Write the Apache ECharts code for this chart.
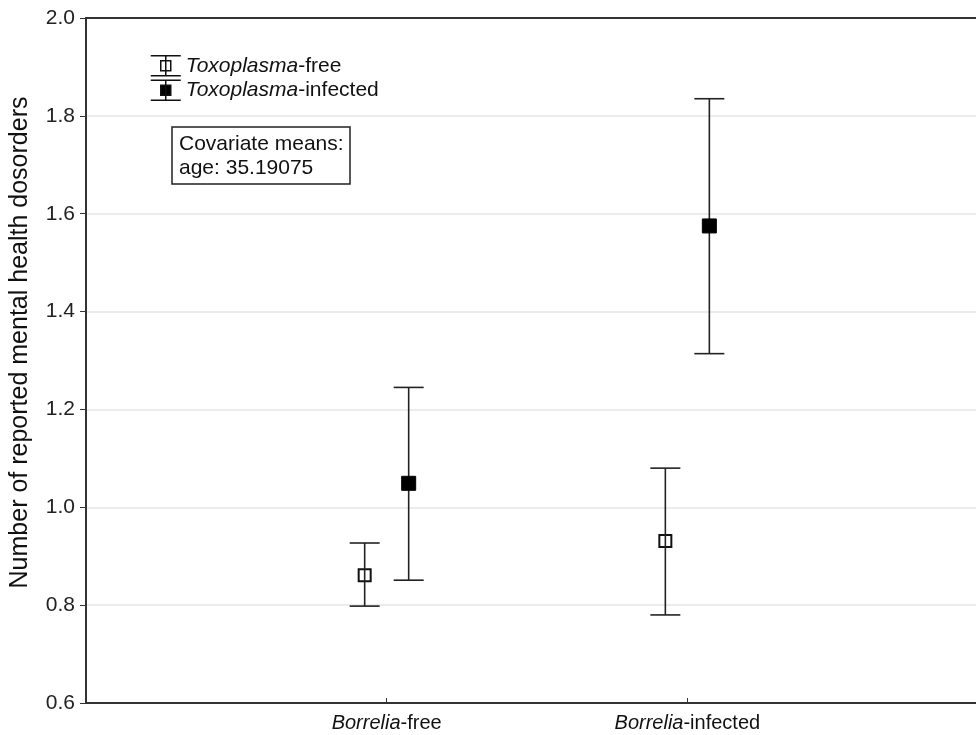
<!DOCTYPE html>
<html>
<head>
<meta charset="utf-8">
<script src="https://cdn.jsdelivr.net/npm/echarts@6/dist/echarts.min.js"></script>
<style>
    html, body { margin: 0; padding: 0; background: #fff; }
    #chart { width: 976px; height: 735px; }
</style>
</head>
<body>
<div id="chart"></div>
<script>
// Groupes sur l'axe X (positions 1 et 2)
const borreliaGroups = ["Borrelia-free", "Borrelia-infected"];
const groupPos = [1, 2];

// Moyennes et bornes
const freeMean = [0.861, 0.931];
const freeLow = [0.798, 0.780];
const freeHigh = [0.927, 1.080];

const infMean = [1.049, 1.575];
const infLow = [0.851, 1.314];
const infHigh = [1.245, 1.835];

const yTicks = [0.6, 0.8, 1.0, 1.2, 1.4, 1.6, 1.8, 2.0];

const FONT = "Liberation Sans, Arial, sans-serif";

function rows(mean, low, high)
{
    return groupPos.map((x, i) => [x, mean[i], low[i], high[i]]);
}

// Dessine une barre d'erreur + carré, décalée de "offset" pixels
function makeRenderer(offset, hollow)
{
    return function (params, api)
    {
        const x = api.value(0);
        const pMean = api.coord([x, api.value(1)]);
        const pLow = api.coord([x, api.value(2)]);
        const pHigh = api.coord([x, api.value(3)]);
        const cx = pMean[0] + offset;
        const capHalf = 15;
        const sq = hollow ? 12 : 14;
        const lineStyle = { stroke: "#222", lineWidth: 1.6 };
        const square = {
            type: "rect",
            shape: { x: cx - sq / 2, y: pMean[1] - sq / 2, width: sq, height: sq },
            style: hollow
                ? { fill: "#fff", stroke: "#111", lineWidth: 2 }
                : { fill: "#000", stroke: "#000", lineWidth: 1 }
        };
        const lines = [
            { type: "line", shape: { x1: cx, y1: pHigh[1], x2: cx, y2: pLow[1] }, style: lineStyle },
            { type: "line", shape: { x1: cx - capHalf, y1: pHigh[1], x2: cx + capHalf, y2: pHigh[1] }, style: lineStyle },
            { type: "line", shape: { x1: cx - capHalf, y1: pLow[1], x2: cx + capHalf, y2: pLow[1] }, style: lineStyle }
        ];
        return {
            type: "group",
            children: hollow ? [square].concat(lines) : lines.concat([square])
        };
    };
}

const legendIcon = "path://M0,0L30,0M15,0L15,20M0,20L30,20M10,5L20,5L20,15L10,15Z";

const chart = echarts.init(document.getElementById("chart"));

chart.setOption({
    animation: false,
    backgroundColor: "#fff",
    textStyle: { fontFamily: FONT },
    title: {
        text: "Covariate means:\nage: 35.19075",
        left: 172,
        top: 127,
        padding: [5, 7, 4, 7],
        borderColor: "#222",
        borderWidth: 1.5,
        textStyle: { fontFamily: FONT, fontSize: 21, fontWeight: "normal", color: "#111", lineHeight: 24 }
    },
    legend: {
        orient: "vertical",
        left: 145,
        top: 50,
        itemWidth: 30,
        itemHeight: 20,
        itemGap: 3,
        selectedMode: false,
        data: [
            { name: "Toxoplasma-free", icon: legendIcon, itemStyle: { color: "#fff", borderColor: "#111", borderWidth: 1.5 } },
            { name: "Toxoplasma-infected", icon: legendIcon, itemStyle: { color: "#000", borderColor: "#111", borderWidth: 1.5 } }
        ],
        formatter: (name) => "{i|Toxoplasma}{n|" + name.replace("Toxoplasma", "") + "}",
        textStyle: {
            rich: {
                i: { fontFamily: FONT, fontSize: 21, fontStyle: "italic", color: "#111" },
                n: { fontFamily: FONT, fontSize: 21, color: "#111" }
            }
        }
    },
    grid: { left: 86, right: 0, top: 18, bottom: 32, outerBoundsMode: "none", containLabel: false },
    xAxis: [
        {
            type: "value",
            min: 0,
            max: 2.96,
            interval: 1,
            splitLine: { show: false },
            axisLine: { lineStyle: { color: "#333", width: 2 } },
            axisTick: { inside: true, length: 5, lineStyle: { color: "#333" } },
            axisLabel: {
                margin: 10,
                formatter: (v) => {
                    const i = groupPos.indexOf(Math.round(v * 100) / 100);
                    if (i < 0) return "";
                    return "{i|Borrelia}{n|" + borreliaGroups[i].replace("Borrelia", "") + "}";
                },
                rich: {
                    i: { fontFamily: FONT, fontSize: 20, fontStyle: "italic", color: "#111" },
                    n: { fontFamily: FONT, fontSize: 20, color: "#111" }
                }
            }
        },
        {
            type: "value",
            position: "top",
            min: 0,
            max: 2.96,
            axisLine: { show: true, lineStyle: { color: "#333", width: 2 } },
            axisTick: { show: false },
            axisLabel: { show: false },
            splitLine: { show: false }
        }
    ],
    yAxis: {
        type: "value",
        min: yTicks[0],
        max: yTicks[yTicks.length - 1],
        interval: 0.2,
        name: "Number of reported mental health dosorders",
        nameLocation: "middle",
        nameGap: 53,
        nameTextStyle: { fontFamily: FONT, fontSize: 25, color: "#111", padding: [0, 0, 0, 36] },
        axisLine: { show: true, lineStyle: { color: "#333", width: 2 } },
        axisTick: { show: true, length: 6, lineStyle: { color: "#333" } },
        axisLabel: {
            margin: 11,
            fontFamily: FONT,
            fontSize: 21,
            color: "#222",
            formatter: (v) => v.toFixed(1)
        },
        splitLine: { show: true, lineStyle: { color: "#e6e6e6", width: 1.5 } }
    },
    series: [
        {
            name: "Toxoplasma-free",
            type: "custom",
            renderItem: makeRenderer(-22, true),
            itemStyle: { color: "#fff", borderColor: "#111" },
            data: rows(freeMean, freeLow, freeHigh),
            clip: false
        },
        {
            name: "Toxoplasma-infected",
            type: "custom",
            renderItem: makeRenderer(22, false),
            itemStyle: { color: "#000" },
            data: rows(infMean, infLow, infHigh),
            clip: false
        }
    ]
});
</script>
</body>
</html>
